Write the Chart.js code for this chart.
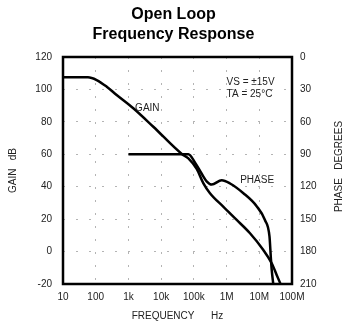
<!DOCTYPE html>
<html>
<head>
<meta charset="utf-8">
<script src="https://cdn.jsdelivr.net/npm/chart.js@4.4.1/dist/chart.umd.min.js"></script>
<style>
  html, body { margin: 0; padding: 0; background: #fff; }
  #wrap { width: 347px; height: 326px; }
</style>
</head>
<body>
<div id="wrap"><canvas id="chart" width="347" height="326"></canvas></div>
<script>
// open loop gain (dB) vs frequency (Hz)
const gainFreq = [10, 58, 107, 217, 437, 1410, 5760, 42800, 68000, 122000, 196000, 311000, 790000, 2040000, 5200000, 13300000, 24000000, 34000000, 46000000]
const gainDb = [107.5, 107.5, 105.8, 101.7, 96.6, 88.4, 77.0, 60.2, 57.5, 51.0, 42.1, 36.0, 27.7, 19.5, 11.3, 1.0, -7.2, -14.4, -20.6]

// phase (degrees) vs frequency (Hz)
const phaseFreq = [1000, 68000, 110000, 174000, 246000, 352000, 710000, 1280000, 3270000, 8300000, 15000000, 20500000, 22500000, 24000000, 27000000]
const phaseDeg = [90, 90, 98, 108, 115, 118, 114, 117, 126, 138, 151, 166, 185, 197, 211]

// axis ticks
const freqTicks = [10, 100, 1e3, 1e4, 1e5, 1e6, 1e7, 1e8]
const freqTickLabels = ['10', '100', '1k', '10k', '100k', '1M', '10M', '100M']

const FONT = '"Liberation Sans", Arial, sans-serif'
const INK = '#222'

const toPoints = (xs, ys) => xs.map((x, i) => ({ x, y: ys[i] }))

// frame + free text labels
const notes = {
  id: 'notes',
  afterDatasetsDraw (chart) {
    const { ctx, chartArea: a, scales } = chart
    const x = scales.x
    const y = scales.y
    const y2 = scales.y2
    ctx.save()
    ctx.strokeStyle = '#000'
    ctx.lineWidth = 2.5
    ctx.strokeRect(a.left, a.top, a.right - a.left, a.bottom - a.top)

    ctx.fillStyle = INK
    ctx.font = '10px ' + FONT
    ctx.textBaseline = 'middle'
    ctx.textAlign = 'left'
    ctx.fillText('GAIN', x.getPixelForValue(1600), y.getPixelForValue(88.5))
    ctx.fillText('PHASE', x.getPixelForValue(2.6e6), y2.getPixelForValue(114))
    ctx.fillText('VS = ±15V', x.getPixelForValue(1.0e6), y.getPixelForValue(104.6))
    ctx.fillText('TA = 25°C', x.getPixelForValue(1.0e6), y.getPixelForValue(97.2))

    // right axis title reads bottom to top
    ctx.translate(a.right + 47, (a.top + a.bottom) / 2 - 4)
    ctx.rotate(-Math.PI / 2)
    ctx.textAlign = 'center'
    ctx.fillText('PHASE   DEGREES', 0, 0)
    ctx.restore()
  }
}

const gridStyle = {
  color: '#b4b4b4',
  lineWidth: 1,
  drawTicks: false
}

new Chart(document.getElementById('chart').getContext('2d'), {
  type: 'line',
  data: {
    datasets: [
      {
        label: 'Gain',
        data: toPoints(gainFreq, gainDb),
        yAxisID: 'y',
        borderColor: '#000',
        borderWidth: 2.5,
        pointRadius: 0,
        cubicInterpolationMode: 'monotone'
      },
      {
        label: 'Phase',
        data: toPoints(phaseFreq, phaseDeg),
        yAxisID: 'y2',
        borderColor: '#000',
        borderWidth: 2.5,
        pointRadius: 0,
        cubicInterpolationMode: 'monotone'
      }
    ]
  },
  options: {
    responsive: false,
    animation: false,
    devicePixelRatio: 1,
    layout: { padding: 0 },
    plugins: {
      legend: { display: false },
      tooltip: { enabled: false },
      title: {
        display: true,
        text: ['Open Loop', 'Frequency Response'],
        color: '#000',
        font: { family: FONT, size: 16, weight: 'bold', lineHeight: 1.25 },
        padding: { top: 5, bottom: 12 }
      }
    },
    scales: {
      x: {
        type: 'logarithmic',
        min: 10,
        max: 1e8,
        afterBuildTicks (scale) {
          scale.ticks = freqTicks.map(v => ({ value: v }))
        },
        afterFit (scale) { scale.height = 42 },
        ticks: {
          color: INK,
          padding: 7,
          autoSkip: false,
          maxRotation: 0,
          font: { family: FONT, size: 10 },
          callback: (v) => freqTickLabels[freqTicks.indexOf(v)] ?? ''
        },
        grid: { ...gridStyle },
        border: { display: false, dash: [2, 11] },
        title: {
          display: true,
          text: 'FREQUENCY      Hz',
          color: INK,
          font: { family: FONT, size: 10 },
          padding: { top: 0, bottom: 4 }
        }
      },
      y: {
        position: 'left',
        min: -20,
        max: 120,
        afterFit (scale) { scale.width = 63 },
        ticks: {
          stepSize: 20,
          color: INK,
          padding: 11,
          font: { family: FONT, size: 10 }
        },
        grid: { ...gridStyle },
        border: { display: false, dash: [2, 11] },
        title: {
          display: true,
          text: 'GAIN   dB',
          color: INK,
          font: { family: FONT, size: 10 },
          padding: { top: 7, bottom: 0 }
        }
      },
      y2: {
        position: 'right',
        min: 0,
        max: 210,
        reverse: true,
        afterFit (scale) { scale.width = 55 },
        ticks: {
          stepSize: 30,
          color: INK,
          padding: 8,
          font: { family: FONT, size: 10 }
        },
        grid: { drawOnChartArea: false, drawTicks: false },
        border: { display: false }
      }
    }
  },
  plugins: [notes]
})
</script>
</body>
</html>
